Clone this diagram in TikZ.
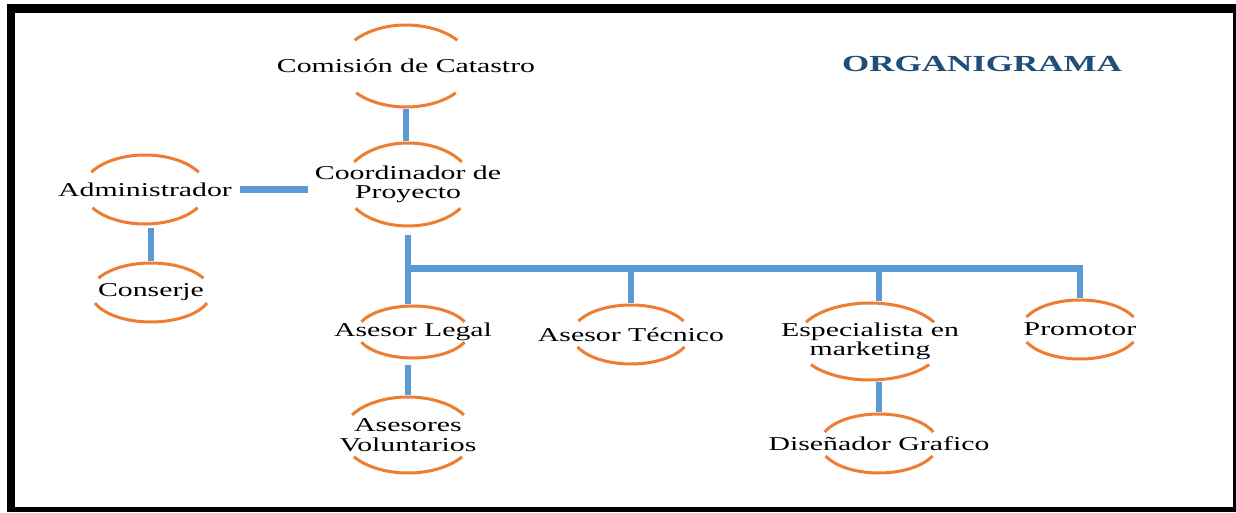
\documentclass[tikz,border=0pt]{standalone}
\usepackage{fontspec}
\setmainfont{Liberation Serif}[FakeStretch=1.52]
\usepackage{tikz}
\usetikzlibrary{calc}

\definecolor{arcorange}{RGB}{237,125,49}
\definecolor{linkblue}{RGB}{91,155,213}
\definecolor{titleblue}{RGB}{31,78,121}
\newcommand{\orgfont}{\fontsize{19.6}{19.5}\selectfont}

\begin{document}
\begin{tikzpicture}[x=1pt, y=1pt,
  box/.style={inner sep=0pt, align=center, font=\orgfont},
  arcline/.style={draw=arcorange, line width=3pt},
  link/.style={draw=linkblue, line width=6.5pt, shorten <=2pt, shorten >=2pt}]
  \useasboundingbox (0,0) rectangle (1236,512);
  \fill[white] (0,0) rectangle (1236,512);
  \fill[black] (7,0) rectangle (1236,508);
  \fill[white] (15,5) rectangle (1233,499);

  \node[font=\bfseries\fontsize{23}{23}\selectfont, text=titleblue] (title) at (982,447.5) {ORGANIGRAMA};

  \node[box, minimum height=82pt] (com) at (406,446) {Comisión de Catastro};
  \node[box, minimum height=83pt] (coord) at (408,327.5) {Coordinador de\\Proyecto};
  \node[box, minimum height=69pt] (adm) at (145,322.5) {Administrador};
  \node[box, minimum height=59pt] (con) at (151,219.5) {Conserje};
  \node[box, minimum height=52pt] (leg) at (413,180) {Asesor Legal};
  \node[box, minimum height=76pt] (vol) at (408,77) {Asesores\\Voluntarios};
  \node[box, minimum height=59pt] (tec) at (631,177.5) {Asesor Técnico};
  \node[box, minimum height=77pt] (esp) at (870,170.5) {Especialista en\\marketing};
  \node[box, minimum height=59pt] (pro) at (1080,182.5) {Promotor};
  \node[box, minimum height=59pt] (dis) at (879,68.5) {Diseñador Grafico};

  \foreach \n/\rx/\ry/\ta/\tb in {com/66/41/39/41, coord/64/41.5/33/35, adm/62/34.5/30/32,
      con/60/29.5/29/21, leg/56/26/23/23, vol/66/38/32/35, tec/59/29.5/27/25,
      esp/74/38.5/30/37, pro/59/29.5/25/25, dis/59/29.5/23/25}
  {
    \draw[arcline] ($(\n.center)+(\ta:\rx pt and \ry pt)$)
      arc[start angle=\ta, end angle=180-\ta, x radius=\rx pt, y radius=\ry pt];
    \draw[arcline] ($(\n.center)+(-\tb:\rx pt and \ry pt)$)
      arc[start angle=-\tb, end angle=-180+\tb, x radius=\rx pt, y radius=\ry pt];
  }

  \coordinate (bus) at (408,243.5);
  \draw[link] (com.south) -- (com.south |- coord.north);
  \draw[link, shorten <=9pt] (coord.south) -- (coord.south |- leg.north);
  \draw[link] (bus) -| (pro.north);
  \draw[link] (tec.north |- bus) -- (tec.north);
  \draw[link] (dis.north |- bus) -- (dis.north |- esp.north);
  \draw[link, shorten <=7pt] (vol.north |- leg.south) -- (vol.north);
  \draw[link] (esp.south -| dis.north) -- (dis.north);
  \draw[link, shorten <=4pt] (con.north |- adm.south) -- (con.north);
  \draw[link, shorten <=8pt, shorten >=7pt] (adm.east) -- (adm.east -| coord.west);
\end{tikzpicture}
\end{document}
